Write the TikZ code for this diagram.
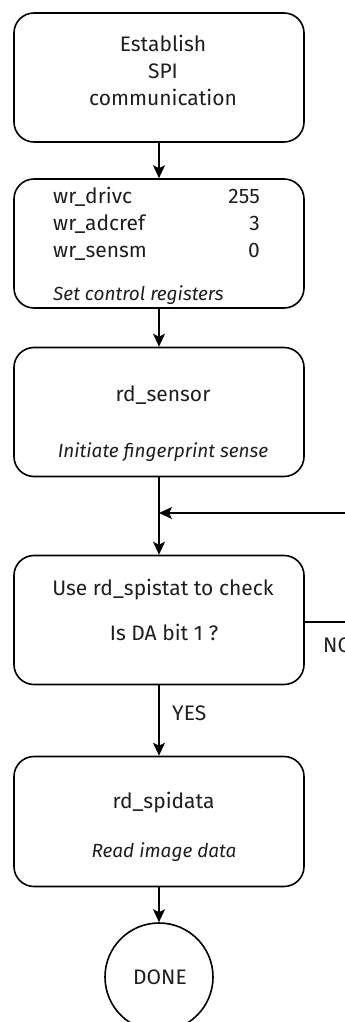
\documentclass[tikz,border=0pt]{standalone}
\usepackage{fontspec}
\setmainfont{Fira Sans}
\usetikzlibrary{arrows.meta}
\definecolor{txt}{HTML}{1E1E1E}
\begin{document}
\begin{tikzpicture}[x=1pt,y=-1pt,
  box/.style={draw=black,line width=1.6pt,rounded corners=20pt,minimum width=290pt,minimum height=129pt,inner sep=0pt},
  lbl/.style={anchor=base,text=txt,font=\fontsize{21}{24}\selectfont,inner sep=0pt},
  lbll/.style={lbl,anchor=base west},
  lblr/.style={lbl,anchor=base east},
  note/.style={anchor=base,text=txt,font=\fontsize{19}{22}\selectfont\itshape,inner sep=0pt},
  flow/.style={line width=1.6pt,-{Stealth[length=13pt,width=12pt,inset=3pt]}},
  plain/.style={line width=1.6pt}]
\useasboundingbox (0,0) rectangle (345,1022);
\clip (0,0) rectangle (345,1022);
% boxes
\node[box] (b1) at (159,77.5) {};
\node[box] (b2) at (159,243.5) {};
\node[box] (b3) at (159,412) {};
\node[box] (b4) at (159,620) {};
\node[box,minimum height=130pt] (b5) at (159,821.5) {};
\node[draw=black,line width=1.6pt,circle,minimum size=108pt,inner sep=0pt] (done) at (159,977) {};
% texts
\node[lbl] (t1a) at (163,52) {Establish};
\node[lbl] (t1b) at (163,79) {SPI};
\node[lbl] (t1c) at (163,106) {communication};
\node[lbll] (t2a) at (53,203) {wr\_drivc};
\node[lbll] (t2b) at (53,230) {wr\_adcref};
\node[lbll] (t2c) at (53,257) {wr\_sensm};
\node[lblr] (v2a) at (260,203) {255};
\node[lblr] (v2b) at (260,230) {3};
\node[lblr] (v2c) at (260,257) {0};
\node[note,anchor=base west] (n2) at (53,300.5) {Set control registers};
\node[lbl] (t3) at (163,401) {rd\_sensor};
\node[note] (n3) at (163,457) {Initiate fingerprint sense};
\node[lbl] (t4a) at (163,595) {Use rd\_spistat to check};
\node[lbl] (t4b) at (164,640) {Is DA bit 1 ?};
\node[lbl] (t5) at (163.5,808) {rd\_spidata};
\node[note] (n5) at (164,857) {Read image data};
\node[lbl] (td) at (160,984) {DONE};
\node[lbll] (yes) at (172,720) {YES};
\node[lbll] (no) at (323,652) {NO};
% connectors
\coordinate (m) at (159,513);
\coordinate (loopin) at (360,513);
\coordinate (loopout) at (360,622);
\draw[flow] (b1) -- (b2);
\draw[flow] (b2) -- (b3);
\draw[flow] (b3) -- (b4);
\draw[flow] (loopin) -- (m);
\draw[plain] (b4.east |- loopout) -- (loopout);
\draw[flow] (b4) -- (b5);
\draw[flow] (b5) -- (done);
\end{tikzpicture}
\end{document}
